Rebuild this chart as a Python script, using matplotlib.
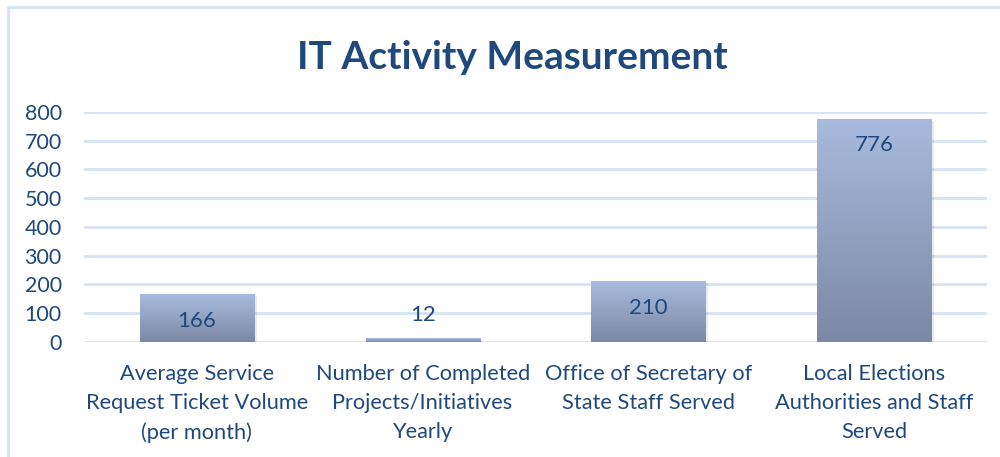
import numpy as np
import matplotlib.pyplot as plt
from matplotlib.patches import Rectangle

categories = [
    "Average Service\nRequest Ticket Volume\n(per month)",
    "Number of Completed\nProjects/Initiatives\nYearly",
    "Office of Secretary of\nState Staff Served",
    "Local Elections\nAuthorities and Staff\nServed",
]
values = [166, 12, 210, 776]
yticks = [0, 100, 200, 300, 400, 500, 600, 700, 800]

TEXT = "#1f497d"
GRID = "#d6e2f3"

plt.rcParams["font.family"] = ["Lato", "DejaVu Sans"]

fig = plt.figure(figsize=(10, 4.57), dpi=100)
ax = fig.add_axes([0.084, 0.252, 0.903, 0.503])

# outer chart frame
fig.patches.append(Rectangle((0.008, -0.1), 1.1, 1.085, transform=fig.transFigure,
                             fill=False, edgecolor=GRID, linewidth=2))

x = np.arange(len(values))
width = 0.505

# vertical gradient for bars
grad = np.linspace(0, 1, 256).reshape(-1, 1)
top = np.array([168, 186, 222]) / 255
bottom = np.array([124, 137, 164]) / 255
img = grad[..., None] * top + (1 - grad[..., None]) * bottom

bars = ax.bar(x, values, width=width, color="none", zorder=3)
for b in bars:
    x0, y0 = b.get_x(), b.get_y()
    w, h = b.get_width(), b.get_height()
    # soft shadow
    ax.add_patch(Rectangle((x0 + 0.012, y0 - 6), w, h, facecolor="#000000",
                           alpha=0.08, edgecolor="none", zorder=2))
    im = ax.imshow(img, extent=(x0, x0 + w, y0, y0 + h), origin="lower",
                   aspect="auto", zorder=3)
    im.set_clip_path(b)

for xi, v in zip(x, values):
    off = -19 if v > 100 else 17
    ax.annotate(str(v), (xi, v), xytext=(0, off), textcoords="offset points",
                ha="center", va="center", fontsize=16, color=TEXT, zorder=4)

ax.set_xlim(-0.5, len(values) - 0.5)
ax.set_ylim(0, 800)
ax.set_yticks(yticks)
ax.set_yticklabels([str(t) for t in yticks])
ax.set_xticks(x)
ax.set_xticklabels(categories, fontsize=15.7, color=TEXT, linespacing=1.56)
ax.tick_params(axis="y", labelsize=15.5, labelcolor=TEXT, length=0, pad=16)
ax.tick_params(axis="x", length=0, pad=16)
ax.yaxis.grid(True, color=GRID, linewidth=2, zorder=0)
ax.set_axisbelow(True)
for s in ax.spines.values():
    s.set_visible(False)

fig.text(0.512, 0.874, "IT Activity Measurement", ha="center", va="center",
         fontsize=28, fontweight="bold", color=TEXT)

fig.savefig("out.png", dpi=100)
